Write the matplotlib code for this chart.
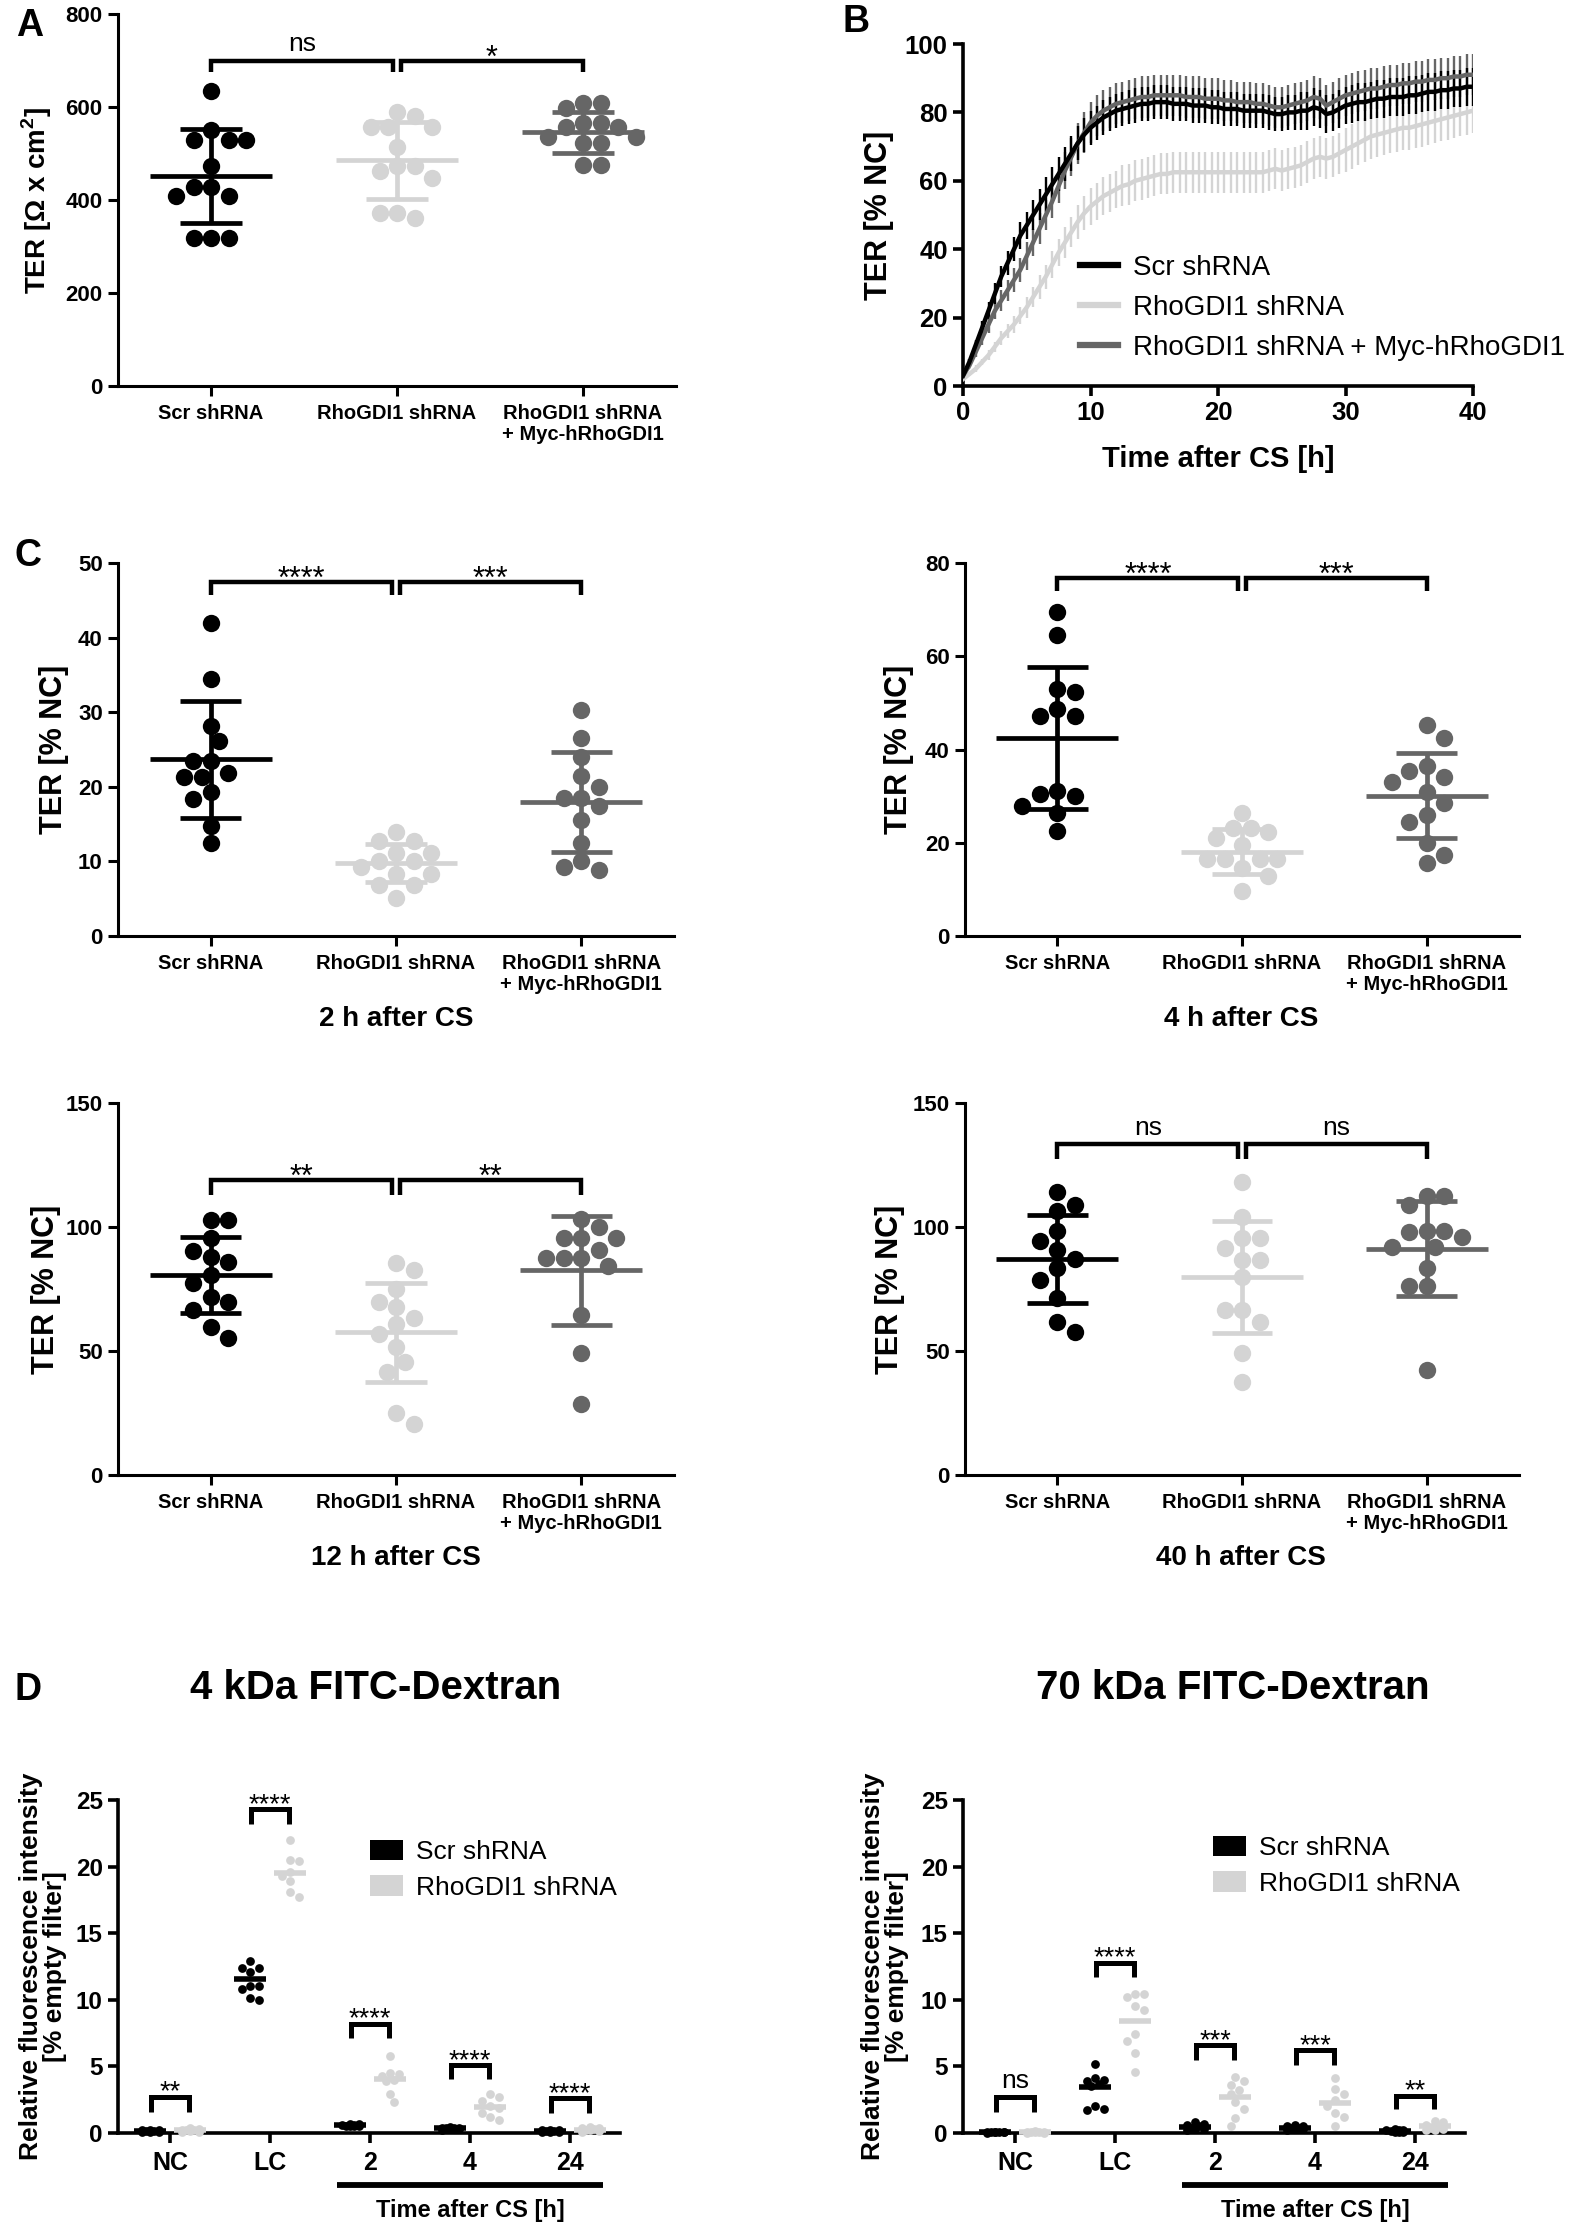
import numpy as np
import matplotlib
matplotlib.use("Agg")
import matplotlib.pyplot as plt
import matplotlib.transforms as mtrans
from matplotlib import font_manager as fm
from matplotlib.lines import Line2D
from matplotlib.patches import Patch

_names = {f.name for f in fm.fontManager.ttflist}
FONT = "Liberation Sans" if "Liberation Sans" in _names else "DejaVu Sans"
plt.rcParams["font.family"] = [FONT, "DejaVu Sans"]
plt.rcParams["mathtext.fontset"] = "custom"
plt.rcParams["mathtext.rm"] = FONT
plt.rcParams["mathtext.bf"] = FONT + ":bold"

# ------------------------------------------------------------------ data
groups = ["Scr shRNA", "RhoGDI1 shRNA", "RhoGDI1 shRNA\n+ Myc-hRhoGDI1"]
group_colors = ["#000000", "#d4d4d4", "#666666"]

# Panel A  (TER, Ohm x cm2)
A_scr = [635, 550, 529, 529, 529, 474, 429, 429, 409, 409, 318, 318, 318]
A_rho = [590, 581, 556, 556, 556, 515, 474, 474, 463, 447, 373, 373, 361]
A_myc = [608, 608, 597, 565, 565, 556, 556, 536, 536, 523, 523, 475, 475]
A_mean = [452, 485, 546]
A_sd = [101, 82, 44]
A_sig = ["ns", "*"]
A_brk = [699, 676]

# Panel B  (time course, % NC)
B_time = np.arange(0, 40.5, 0.5)
B_scr = [3, 7, 12, 17, 22, 27, 32, 36, 40, 44,
         47, 50, 53, 56, 59, 62, 65, 68, 71, 73.5,
         75.5, 77, 78.5, 79.5, 80.5, 81, 81.5, 82, 82.5, 82.5,
         83, 83, 83, 82.5, 82.5, 82.5, 82, 82, 82, 81.5,
         81.5, 81, 81, 81, 80.5, 80.5, 80.5, 80.5, 80, 79.5,
         79.5, 80, 80, 80.5, 80.5, 81.5, 81, 79.5, 80, 81,
         82, 82.5, 83, 83, 83.5, 84, 84, 84.5, 84.5, 84.5,
         85, 85, 85.5, 86, 86, 86.5, 86.5, 87, 87, 87.5,
         87.5]
B_rho = [2, 3.5, 5, 7, 9, 11.5, 14, 16, 18, 20.5,
         23, 26, 29, 32, 35.5, 39, 42, 45, 48, 50.5,
         52.5, 54, 55.5, 56.5, 57.5, 58.5, 59, 60, 60.5, 61,
         61.5, 62, 62, 62.5, 62.5, 62.5, 62.5, 62.5, 62.5, 62.5,
         62.5, 62.5, 62.5, 62.5, 62.5, 62.5, 62.5, 62.5, 63, 63.5,
         63, 63.5, 64, 64.5, 65.5, 66.5, 67, 66.5, 67, 68,
         69, 70, 71, 72, 73, 73.5, 74, 74.5, 75, 75.5,
         75.5, 76, 76.5, 77, 77.5, 78, 78.5, 79, 79.5, 80,
         80.5]
B_myc = [3, 6, 10, 14, 18, 22, 25, 28, 31, 34,
         38, 42, 46, 50, 54, 58.5, 63, 67, 71, 74,
         77, 79, 80.5, 81.5, 82.5, 83, 83.5, 84, 84.5, 84.5,
         85, 85, 85, 85, 85, 84.5, 84.5, 84.5, 84, 84,
         84, 83.5, 83.5, 83, 83, 83, 82.5, 82.5, 82, 81.5,
         81.5, 82, 82.5, 83, 83.5, 84.5, 84, 82, 83, 84,
         85, 85.5, 86, 86.5, 87, 87, 87.5, 88, 88, 88.5,
         88.5, 89, 89, 89.5, 89.5, 90, 90, 90.5, 90.5, 91,
         91]
B_scr_sd = [0.5, 1, 1.5, 2, 2.5, 3, 3, 3.5, 3.5, 4,
            4, 4.5, 4.5, 5, 5, 5, 5, 5, 5, 5,
            5, 5, 5, 5, 5, 5, 5, 5, 5, 5,
            5, 5, 5, 5, 5, 5, 5, 5, 5, 5,
            5, 5, 5, 5, 5, 5, 5, 5, 5, 5,
            5, 5, 5, 5.5, 5.5, 5.5, 5.5, 5.5, 5.5, 5.5,
            5.5, 5.5, 5.5, 5.5, 5.5, 5.5, 5.5, 5.5, 5.5, 5.5,
            5.5, 5.5, 5.5, 5.5, 5.5, 5.5, 5.5, 5.5, 5.5, 5.5,
            5.5]
B_rho_sd = [0.5, 0.5, 1, 1, 1.5, 1.5, 2, 2, 2.5, 2.5,
            3, 3, 3.5, 3.5, 4, 4, 4.5, 4.5, 5, 5,
            5.5, 5.5, 5.5, 5.5, 5.5, 6, 6, 6, 6, 6,
            6, 6, 6, 6, 6, 6, 6, 6, 6, 6,
            6, 6, 6, 6, 6, 6, 6, 6, 6, 6,
            6, 6, 6, 6, 6, 6, 6, 6, 6, 6,
            6.5, 6.5, 6.5, 6.5, 6.5, 6.5, 6.5, 6.5, 6.5, 6.5,
            6.5, 6.5, 6.5, 6.5, 6.5, 6.5, 6.5, 6.5, 6.5, 6.5,
            6.5]
B_myc_sd = [0.5, 1, 1.5, 2, 2.5, 2.5, 3, 3, 3.5, 3.5,
            4, 4, 4.5, 4.5, 5, 5, 5.5, 5.5, 6, 6,
            6, 6, 6, 6, 6, 6, 6, 6, 6, 6,
            6, 6, 6, 6, 6, 6, 6, 6, 6, 6,
            6, 6, 6, 6, 6, 6, 6, 6, 6, 6,
            6, 6, 6, 6, 6, 6, 6, 6, 6, 6,
            6, 6, 6, 6, 6, 6, 6, 6, 6, 6,
            6, 6, 6, 6, 6, 6, 6, 6, 6, 6,
            6]
B_labels = ["Scr shRNA", "RhoGDI1 shRNA", "RhoGDI1 shRNA + Myc-hRhoGDI1"]

# Panel C  (TER, % NC at 2, 4, 12, 40 h)
C2_scr = [42.0, 34.4, 28.1, 26.1, 23.5, 23.5, 21.8, 21.3, 21.3, 19.3, 18.4, 14.8, 12.5]
C2_rho = [14.0, 12.7, 12.7, 11.1, 11.1, 10.0, 10.0, 9.3, 8.3, 8.3, 6.9, 6.9, 5.1]
C2_myc = [30.3, 26.6, 24.0, 21.5, 20.0, 18.5, 18.5, 17.4, 15.6, 12.5, 10.1, 9.3, 8.9]
C2_mean = [23.7, 9.8, 17.9]
C2_sd = [7.85, 2.5, 6.7]
C2_sig = ["****", "***"]
C2_brk = [47.4, 45.7]

C4_scr = [69.4, 64.6, 53.0, 52.4, 48.7, 47.1, 47.1, 31.0, 30.5, 30.1, 27.9, 26.3, 22.6]
C4_rho = [26.3, 23.1, 23.1, 22.4, 21.0, 19.5, 16.5, 16.5, 16.5, 16.5, 14.5, 12.9, 9.7]
C4_myc = [45.3, 42.4, 36.4, 35.3, 34.2, 33.1, 30.8, 28.6, 26.0, 24.5, 20.0, 17.4, 15.6]
C4_mean = [42.4, 18.1, 30.1]
C4_sd = [15.2, 4.8, 9.1]
C4_sig = ["****", "***"]
C4_brk = [76.8, 73.9]

C12_scr = [102.7, 102.7, 95.7, 90.2, 88.1, 86.0, 80.7, 77.6, 71.7, 69.6, 66.5, 59.6, 55.4]
C12_rho = [85.6, 82.5, 75.1, 69.6, 67.9, 63.3, 60.9, 57.0, 51.6, 45.6, 41.5, 24.8, 20.6]
C12_myc = [103.4, 99.9, 95.7, 95.7, 95.7, 90.9, 87.7, 87.7, 87.7, 84.3, 64.4, 49.1, 28.5]
C12_mean = [80.7, 57.5, 82.5]
C12_sd = [15.3, 20.1, 22.1]
C12_sig = ["**", "**"]
C12_brk = [119.0, 113.1]

C40_scr = [114.1, 108.9, 106.4, 98.5, 94.3, 90.6, 87.1, 83.6, 78.6, 71.4, 61.6, 57.5]
C40_rho = [118.0, 104.1, 95.7, 95.7, 91.6, 86.7, 86.7, 79.7, 66.5, 66.5, 61.6, 49.1, 37.7]
C40_myc = [112.4, 112.4, 108.9, 98.5, 98.5, 97.8, 96.1, 92.0, 92.0, 83.6, 76.2, 76.2, 42.2]
C40_mean = [87.1, 80.0, 91.3]
C40_sd = [17.6, 22.6, 19.0]
C40_sig = ["ns", "ns"]
C40_brk = [133.3, 127.3]

# Panel D  (FITC-dextran flux, % empty filter)
D_cats = ["NC", "LC", "2", "4", "24"]
D_series = ["Scr shRNA", "RhoGDI1 shRNA"]
D4_scr = [[0.05, 0.1, 0.1, 0.15, 0.15, 0.2, 0.2, 0.25],
          [12.9, 12.4, 12.4, 12.1, 11.05, 11.05, 10.8, 10.1, 10.0],
          [0.7, 0.65, 0.6, 0.6, 0.55, 0.55, 0.5, 0.5],
          [0.45, 0.4, 0.4, 0.35, 0.35, 0.3, 0.3, 0.25],
          [0.25, 0.2, 0.2, 0.15, 0.15, 0.1, 0.1, 0.05]]
D4_rho = [[0.35, 0.3, 0.25, 0.2, 0.2, 0.15, 0.1, 0.1],
          [22.0, 20.5, 20.4, 19.6, 19.3, 18.9, 18.1, 17.7],
          [5.8, 4.5, 4.4, 4.3, 4.0, 3.9, 2.9, 2.3],
          [2.9, 2.7, 2.4, 2.0, 1.9, 1.5, 1.2, 1.0],
          [0.45, 0.4, 0.35, 0.3, 0.25, 0.2, 0.15, 0.1]]
D4_scr_mean = [0.15, 11.55, 0.6, 0.35, 0.15]
D4_rho_mean = [0.2, 19.5, 4.06, 1.94, 0.25]
D4_sig = ["**", "****", "****", "****", "****"]
D4_brk_top = [2.73, 24.3, 8.2, 5.1, 2.6]
D4_brk_bot = [1.6, 23.2, 7.1, 4.06, 1.5]

D70_scr = [[0.1, 0.1, 0.05, 0.05, 0.05, 0.0, 0.05, 0.1],
           [5.2, 4.1, 4.0, 3.9, 3.7, 3.5, 2.0, 1.8, 1.7],
           [0.8, 0.7, 0.6, 0.5, 0.4, 0.3, 0.3, 0.2],
           [0.6, 0.5, 0.5, 0.4, 0.4, 0.3, 0.3, 0.2],
           [0.3, 0.25, 0.2, 0.2, 0.15, 0.1, 0.1, 0.05]]
D70_rho = [[0.15, 0.1, 0.1, 0.05, 0.05, 0.05, 0.0, 0.0],
           [10.4, 10.4, 10.2, 9.5, 9.2, 7.4, 6.9, 6.0, 4.6],
           [4.2, 3.9, 3.6, 3.2, 2.9, 2.3, 1.8, 1.1, 0.5],
           [4.1, 3.3, 2.9, 2.5, 2.0, 1.5, 1.2, 0.5],
           [0.9, 0.8, 0.6, 0.5, 0.4, 0.3, 0.2, 0.2]]
D70_scr_mean = [0.05, 3.44, 0.45, 0.4, 0.15]
D70_rho_mean = [0.05, 8.4, 2.7, 2.24, 0.5]
D70_sig = ["ns", "****", "***", "***", "**"]
D70_brk_top = [2.74, 12.8, 6.6, 6.2, 2.8]
D70_brk_bot = [1.6, 11.7, 5.5, 5.1, 1.8]

# ------------------------------------------------------------------ figure
W, H = 1569, 2227
fig = plt.figure(figsize=(W / 100, H / 100), dpi=100)
fig.patch.set_facecolor("white")


def add_ax(l, t, r, b):
    return fig.add_axes([l / W, 1 - b / H, (r - l) / W, (b - t) / H])


def ftext(x, y, s, **kw):
    fig.text(x / W, 1 - y / H, s, **kw)


def style_ax(ax, tick_fs, lw=2.2):
    for s in ("top", "right"):
        ax.spines[s].set_visible(False)
    for s in ("left", "bottom"):
        ax.spines[s].set_linewidth(lw)
    ax.tick_params(direction="out", length=7, width=lw, labelsize=tick_fs, pad=4)
    for lab in ax.get_xticklabels() + ax.get_yticklabels():
        lab.set_fontweight("bold")


def swarm(ax, xc, vals, diam, max_off=None):
    vals = np.asarray(vals, float)
    pix = ax.transData.transform(np.column_stack([np.full(len(vals), xc), vals]))
    ys = pix[:, 1]
    order = np.argsort(-vals, kind="stable")
    placed = []
    offs = np.zeros(len(vals))
    step = diam * 0.5
    flip = 1
    for i in order:
        chosen = None
        best, best_d = 0.0, -1.0
        for k in range(0, 60):
            cands = [0.0] if k == 0 else [flip * k * step, -flip * k * step]
            for c in cands:
                if max_off is not None and abs(c) > max_off:
                    continue
                d = min([np.hypot(c - px, ys[i] - py) for px, py in placed] + [1e9])
                if d > best_d:
                    best, best_d = c, d
                if d >= diam * 0.97:
                    chosen = c
                    break
            if chosen is not None:
                break
        if chosen is None:
            chosen = best
        if chosen != 0:
            flip = -flip
        offs[i] = chosen
        placed.append((chosen, ys[i]))
    ppu = ax.transData.transform([[1, 0]])[0, 0] - ax.transData.transform([[0, 0]])[0, 0]
    return offs / ppu


def bracket(ax, x1, x2, ytop, ybot, label, fs_star, fs_ns, off_star, off_ns, lw=3.2):
    ax.plot([x1, x1, x2, x2], [ybot, ytop, ytop, ybot], color="k", lw=lw,
            solid_joinstyle="miter", solid_capstyle="butt", clip_on=False, zorder=5)
    if label == "ns":
        off, fs = off_ns, fs_ns
    else:
        off, fs = off_star, fs_star
    ax.annotate(label, xy=((x1 + x2) / 2, ytop), xytext=(0, off), textcoords="offset points",
                ha="center", va="baseline", fontsize=fs, annotation_clip=False)


def dot_panel(ax, data, means, sds, ymax, ystep, sig, brk, ylabel, ylab_x, ylab_fs):
    ax.set_xlim(-0.5, 2.5)
    ax.set_ylim(0, ymax)
    ax.set_yticks(np.arange(0, ymax + 0.1, ystep))
    ax.set_xticks(range(3))
    ax.set_xticklabels(groups, linespacing=1.15)
    style_ax(ax, 14.5)
    ax.tick_params(axis="y", labelsize=16)
    ax.tick_params(axis="x", pad=6)
    for i, (vals, c) in enumerate(zip(data, group_colors)):
        offs = swarm(ax, i, vals, 17.5)
        ax.plot(i + offs, vals, "o", ms=12.5, color=c, mec="none", zorder=3, clip_on=False)
        m, s = means[i], sds[i]
        ax.hlines(m, i - 0.33, i + 0.33, color=c, lw=3.4, zorder=4)
        ax.vlines(i, m - s, m + s, color=c, lw=3.4, zorder=4)
        ax.hlines([m - s, m + s], i - 0.165, i + 0.165, color=c, lw=3.4, zorder=4)
    bracket(ax, 0, 0.98, brk[0], brk[1], sig[0], 22, 19, -4, 7)
    bracket(ax, 1.02, 2, brk[0], brk[1], sig[1], 22, 19, -4, 7)
    ax.text(ylab_x, 0.5, ylabel, transform=ax.transAxes, rotation=90, ha="center",
            va="center", fontsize=ylab_fs, fontweight="bold")


# ---------------- Panel A
axA = add_ax(118, 14, 676, 386)
dot_panel(axA, [A_scr, A_rho, A_myc], A_mean, A_sd, 800, 200, A_sig, A_brk,
          "TER [\u03a9 x cm$^{\\mathbf{2}}$]", -0.145, 20)

# ---------------- Panel B
axB = add_ax(963, 44, 1473, 386)
axB.set_xlim(0, 40)
axB.set_ylim(0, 100)
axB.set_xticks([0, 10, 20, 30, 40])
axB.set_yticks([0, 20, 40, 60, 80, 100])
style_ax(axB, 18.5, lw=2.6)
b_colors = ["#000000", "#d4d4d4", "#666666"]
series = [(B_rho, B_rho_sd, b_colors[1], 1), (B_myc, B_myc_sd, b_colors[2], 2),
          (B_scr, B_scr_sd, b_colors[0], 3)]
for mean, sd, c, z in series:
    axB.errorbar(B_time, mean, yerr=sd, fmt="none", ecolor=c, elinewidth=1.7, capsize=0, zorder=z)
for mean, sd, c, z in series:
    axB.plot(B_time, mean, color=c, lw=3.2, zorder=z + 3)
axB.set_xlabel("Time after CS [h]", fontsize=21, fontweight="bold", labelpad=14)
axB.text(-0.165, 0.5, "TER [% NC]", transform=axB.transAxes, rotation=90, ha="center",
         va="center", fontsize=22, fontweight="bold")
handles = [Line2D([], [], color=c, lw=4.5) for c in b_colors]
axB.legend(handles, B_labels, loc="upper left", bbox_to_anchor=(1080 / W, 1 - 255 / H),
           bbox_transform=fig.transFigure, frameon=False, fontsize=20, handlelength=1.35,
           handletextpad=0.55, labelspacing=0.5, borderpad=0, borderaxespad=0)

# ---------------- Panel C
axC2 = add_ax(118, 563, 674, 936)
dot_panel(axC2, [C2_scr, C2_rho, C2_myc], C2_mean, C2_sd, 50, 10, C2_sig, C2_brk,
          "TER [% NC]", -0.115, 22)
axC4 = add_ax(965, 563, 1519, 936)
dot_panel(axC4, [C4_scr, C4_rho, C4_myc], C4_mean, C4_sd, 80, 20, C4_sig, C4_brk,
          "TER [% NC]", -0.12, 22)
axC12 = add_ax(118, 1103, 674, 1475)
dot_panel(axC12, [C12_scr, C12_rho, C12_myc], C12_mean, C12_sd, 150, 50, C12_sig, C12_brk,
          "TER [% NC]", -0.13, 22)
axC40 = add_ax(965, 1103, 1519, 1475)
dot_panel(axC40, [C40_scr, C40_rho, C40_myc], C40_mean, C40_sd, 150, 50, C40_sig, C40_brk,
          "TER [% NC]", -0.135, 22)

ftext(396, 1019, "2 h after CS", ha="center", va="center", fontsize=20, fontweight="bold")
ftext(1241, 1019, "4 h after CS", ha="center", va="center", fontsize=20, fontweight="bold")
ftext(396, 1558, "12 h after CS", ha="center", va="center", fontsize=20, fontweight="bold")
ftext(1241, 1558, "40 h after CS", ha="center", va="center", fontsize=20, fontweight="bold")


# ---------------- Panel D
def dex_panel(ax, scr, rho, scr_mean, rho_mean, sig, top, bot, ylab_x, leg_anchor):
    ax.set_xlim(-0.52, 4.5)
    ax.set_ylim(0, 25)
    ax.set_yticks([0, 5, 10, 15, 20, 25])
    ax.set_xticks(range(5))
    ax.set_xticklabels(D_cats)
    style_ax(ax, 17.5, lw=2.6)
    ax.tick_params(axis="x", labelsize=18, pad=6)
    ppu = ax.transData.transform([[1, 0]])[0, 0] - ax.transData.transform([[0, 0]])[0, 0]
    for i in range(5):
        for vals, m, c, dx in ((scr[i], scr_mean[i], "#000000", -0.2),
                               (rho[i], rho_mean[i], "#d4d4d4", 0.2)):
            offs = swarm(ax, i + dx, vals, 8.5, max_off=0.12 * ppu)
            ax.plot(i + dx + offs, vals, "o", ms=6.3, color=c, mec="none", zorder=3, clip_on=False)
            ax.hlines(m, i + dx - 0.16, i + dx + 0.16, color=c, lw=4, zorder=4, clip_on=False)
        bracket(ax, i - 0.19, i + 0.19, top[i], bot[i], sig[i], 19.5, 19, -2, 6, lw=3.6)
    tr = mtrans.blended_transform_factory(ax.transData, ax.transAxes)
    ax.plot([1.67, 4.33], [-0.156, -0.156], transform=tr, color="k", lw=4.2,
            solid_capstyle="butt", clip_on=False)
    ax.text(3.0, -0.232, "Time after CS [h]", transform=tr, ha="center", va="center",
            fontsize=17, fontweight="bold")
    ax.text(ylab_x, 0.5, "Relative fluorescence intensity\n[% empty filter]",
            transform=ax.transAxes, rotation=90, ha="center", va="center",
            fontsize=19, fontweight="bold", linespacing=1.0)
    hd = [Patch(facecolor="#000000", edgecolor="none"), Patch(facecolor="#d4d4d4", edgecolor="none")]
    ax.legend(hd, D_series, loc="upper left", bbox_to_anchor=leg_anchor,
              bbox_transform=fig.transFigure, frameon=False, fontsize=19, handlelength=1.25,
              handleheight=0.8, handletextpad=0.5, labelspacing=0.42, borderpad=0,
              borderaxespad=0)


axD4 = add_ax(118, 1800, 620, 2133)
dex_panel(axD4, D4_scr, D4_rho, D4_scr_mean, D4_rho_mean, D4_sig, D4_brk_top, D4_brk_bot,
          -0.15, (370 / W, 1 - 1840 / H))
axD70 = add_ax(963, 1800, 1465, 2133)
dex_panel(axD70, D70_scr, D70_rho, D70_scr_mean, D70_rho_mean, D70_sig, D70_brk_top,
          D70_brk_bot, -0.155, (1213 / W, 1 - 1836 / H))

ftext(376, 1688, "4 kDa FITC-Dextran", ha="center", va="center", fontsize=29, fontweight="bold")
ftext(1233, 1688, "70 kDa FITC-Dextran", ha="center", va="center", fontsize=29, fontweight="bold")

# panel letters
for x, y, s in ((30, 26, "A"), (856, 22, "B"), (28, 556, "C"), (28, 1690, "D")):
    ftext(x, y, s, ha="center", va="center", fontsize=27, fontweight="bold")

fig.savefig("out.png", dpi=100, facecolor="white")
